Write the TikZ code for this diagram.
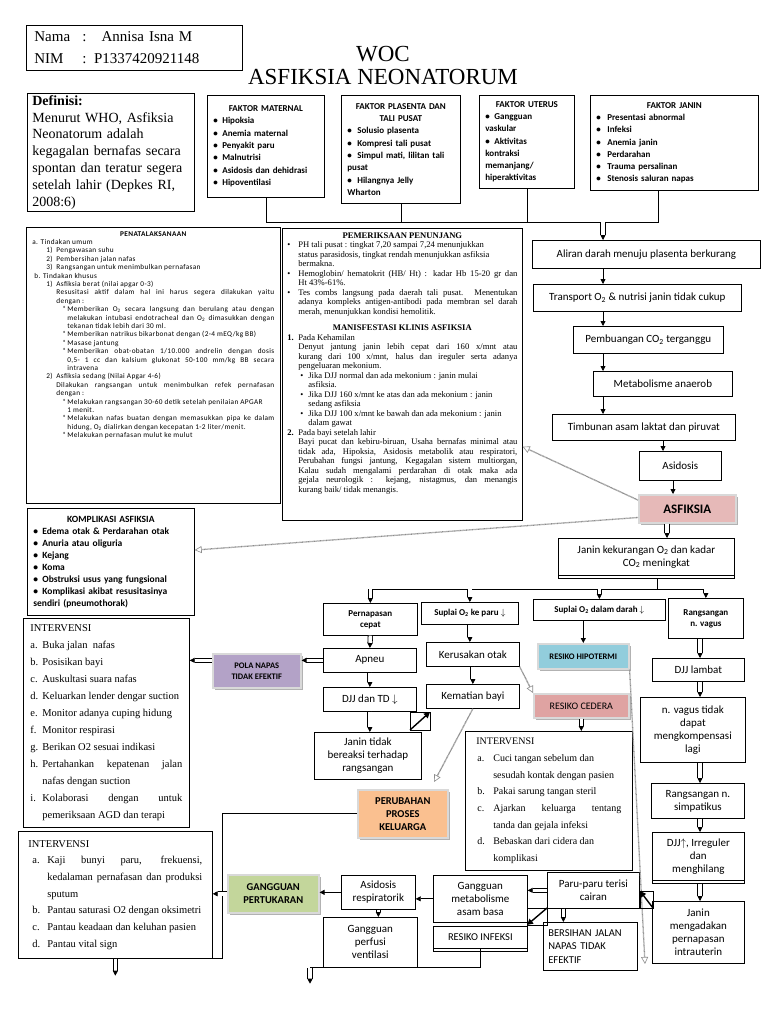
\documentclass[tikz,border=0pt]{standalone}
\usepackage{fontspec}
\setmainfont{Liberation Serif}
\newfontfamily\calib{Carlito}
\newfontfamily\calibsp{Carlito}[LetterSpace=5]
\usetikzlibrary{arrows.meta,shadows,positioning}

\definecolor{pinkA}{HTML}{E6B9B8}
\definecolor{lilac}{HTML}{B3A2C7}
\definecolor{skyA}{HTML}{92CDDC}
\definecolor{roseA}{HTML}{DFA3A2}
\definecolor{peach}{HTML}{FAC090}
\definecolor{sage}{HTML}{C3D69B}

\newcommand\fsz[2]{\fontsize{#1}{#2}\selectfont}
\newcommand\itm[3]{\par\hangindent=#1\hangafter=0\noindent\llap{\makebox[#2][l]{#3}}}

\tikzset{
  bx/.style={draw, line width=0.7pt, anchor=north west, align=center, inner sep=2pt, font=\calib\fsz{11}{13}},
  fak/.style={bx, align=left, inner xsep=6pt, font=\calib\bfseries\fsz{9}{12.3}},
  tag/.style={bx, draw=black!15, line width=1.6pt, drop shadow={shadow xshift=2pt, shadow yshift=-2pt, fill=black!30, opacity=1}},
  twin/.style={fill=white, copy shadow={shadow xshift=0pt, shadow yshift=-3pt}},
  arr/.style={line width=0.8pt, -{Triangle[length=5pt,width=5pt]}},
  dbl/.style={double, double distance=3.6pt, line width=0.8pt, -{Triangle[length=5pt,width=5pt]}},
  gry/.style={draw=black!45, line width=1.3pt, dash pattern=on 0.7pt off 0.5pt,
    -{Triangle[open, length=7pt, width=7pt, line width=0.6pt, fill=white]}},
  diag/.style={draw=black, line width=1.4pt, -{Triangle[length=6pt,width=6pt]}},
}

\begin{document}
\begin{tikzpicture}[x=1pt, y=-1pt]
\useasboundingbox (0,0) rectangle (768,1024);
\fill[white] (0,0) rectangle (768,1024);

% kepala
\node[bx, font=\fsz{15}{22}, align=left, text width=200pt, inner xsep=8pt, minimum height=45pt] (nama) at (26,25)
  {\makebox[48pt][l]{Nama}:\ \ \ Annisa Isna M\\\makebox[48pt][l]{NIM}: P1337420921148};
\node[font=\fsz{23}{23}, align=center] (judul) at (383,66) {WOC\\ASFIKSIA NEONATORUM};

\node[bx, font=\fsz{14}{16.8}, align=left, text width=157pt, inner xsep=5pt, minimum height=117pt] (def) at (27,93)
  {\textbf{Definisi:}\\Menurut WHO, Asfiksia\\Neonatorum adalah\\kegagalan bernafas secara\\spontan dan teratur segera\\setelah lahir (Depkes RI,\\2008:6)};

% faktor
\node[fak, text width=105pt, minimum height=102pt] (maternal) at (207,95)
  {{\centering FAKTOR MATERNAL\par}
   \itm{9pt}{9pt}{\textbullet}Hipoksia
   \itm{9pt}{9pt}{\textbullet}Anemia maternal
   \itm{9pt}{9pt}{\textbullet}Penyakit paru
   \itm{9pt}{9pt}{\textbullet}Malnutrisi
   \itm{9pt}{9pt}{\textbullet}Asidosis dan dehidrasi
   \itm{9pt}{9pt}{\textbullet}Hipoventilasi\par};
\node[fak, text width=107pt, minimum height=108pt] (plasenta) at (341,95)
  {{\centering FAKTOR PLASENTA DAN\\TALI PUSAT\par}
   \itm{10pt}{10pt}{\textbullet}Solusio plasenta
   \itm{10pt}{10pt}{\textbullet}Kompresi tali pusat
   \itm{10pt}{10pt}{\textbullet}Simpul mati, lilitan tali\\pusat
   \itm{10pt}{10pt}{\textbullet}Hilangnya Jelly\\Wharton\par};
\node[fak, text width=83pt, minimum height=93pt] (uterus) at (479,95)
  {{\centering FAKTOR UTERUS\par}
   \itm{9pt}{9pt}{\textbullet}Gangguan\\vaskular
   \itm{9pt}{9pt}{\textbullet}Aktivitas\\kontraksi\\memanjang/\\hiperaktivitas\par};
\node[fak, text width=156pt, minimum height=95pt] (janin) at (590,95)
  {{\centering FAKTOR JANIN\par}
   \itm{11pt}{11pt}{\textbullet}Presentasi abnormal
   \itm{11pt}{11pt}{\textbullet}Infeksi
   \itm{11pt}{11pt}{\textbullet}Anemia janin
   \itm{11pt}{11pt}{\textbullet}Perdarahan
   \itm{11pt}{11pt}{\textbullet}Trauma persalinan
   \itm{11pt}{11pt}{\textbullet}Stenosis saluran napas\par};

% penatalaksanaan & pemeriksaan
\node[bx, inner xsep=6pt, inner ysep=4pt] (tata) at (26,227)
  {\parbox[t][268pt][t]{242pt}{\calibsp\fsz{7.3}{8.4}\baselineskip=8.4pt
   {\centering\bfseries PENATALAKSANAAN\par}
   \itm{0pt}{0pt}{}a. Tindakan umum
   \itm{24pt}{10pt}{1)}Pengawasan suhu
   \itm{24pt}{10pt}{2)}Pembersihan jalan nafas
   \itm{24pt}{10pt}{3)}Rangsangan untuk menimbulkan pernafasan
   \itm{2pt}{0pt}{}b. Tindakan khusus
   \itm{24pt}{10pt}{1)}Asfiksia berat (nilai apgar 0-3)
   \itm{24pt}{0pt}{}Resusitasi aktif dalam hal ini harus segera dilakukan yaitu\linebreak dengan :
   \itm{35pt}{5pt}{*}Memberikan O\textsubscript{2} secara langsung dan berulang atau dengan\linebreak melakukan intubasi endotracheal dan O\textsubscript{2} dimasukkan dengan\linebreak tekanan tidak lebih dari 30 ml.
   \itm{35pt}{5pt}{*}Memberikan natrikus bikarbonat dengan (2-4 mEQ/kg BB)
   \itm{35pt}{5pt}{*}Masase jantung
   \itm{35pt}{5pt}{*}Memberikan obat-obatan 1/10.000 andrelin dengan dosis\linebreak 0,5- 1 cc dan kalsium glukonat 50-100 mm/kg BB secara\linebreak intravena
   \itm{24pt}{10pt}{2)}Asfiksia sedang (Nilai Apgar 4-6)
   \itm{24pt}{0pt}{}Dilakukan rangsangan untuk menimbulkan refek pernafasan\linebreak dengan :
   \itm{35pt}{5pt}{*}Melakukan rangsangan 30-60 detik setelah penilaian APGAR\\1 menit.
   \itm{35pt}{5pt}{*}Melakukan nafas buatan dengan memasukkan pipa ke dalam\linebreak hidung, O\textsubscript{2} dialirkan dengan kecepatan 1-2 liter/menit.
   \itm{35pt}{5pt}{*}Melakukan pernafasan mulut ke mulut\par}};
\node[bx, inner xsep=5pt, inner ysep=4pt] (periksa) at (282,228)
  {\parbox[t][284pt][t]{230pt}{\rmfamily\fsz{8.6}{9.5}
   {\centering\bfseries PEMERIKSAAN PENUNJANG\par}
   \itm{11pt}{11pt}{\textbullet}PH tali pusat : tingkat 7,20 sampai 7,24 menunjukkan\\status parasidosis, tingkat rendah menunjukkan asfiksia\\bermakna.
   \itm{11pt}{11pt}{\textbullet}Hemoglobin/ hematokrit (HB/ Ht) : kadar Hb 15-20 gr dan\linebreak Ht 43\%-61\%.
   \itm{11pt}{11pt}{\textbullet}Tes combs langsung pada daerah tali pusat. Menentukan\linebreak adanya kompleks antigen-antibodi pada membran sel darah\linebreak merah, menunjukkan kondisi hemolitik.
   \par\vspace{7pt}
   {\centering\bfseries MANISFESTASI KLINIS ASFIKSIA\par}
   \itm{11pt}{11pt}{\textbf{1.}}Pada Kehamilan
   \itm{11pt}{0pt}{}Denyut jantung janin lebih cepat dari 160 x/mnt atau\linebreak kurang dari 100 x/mnt, halus dan ireguler serta adanya\linebreak pengeluaran mekonium.
   \itm{21pt}{8pt}{\textbullet}Jika DJJ normal dan ada mekonium : janin mulai\\asfiksia.
   \itm{21pt}{8pt}{\textbullet}Jika DJJ 160 x/mnt ke atas dan ada mekonium : janin\\sedang asfiksia
   \itm{21pt}{8pt}{\textbullet}Jika DJJ 100 x/mnt ke bawah dan ada mekonium : janin\\dalam gawat
   \itm{11pt}{11pt}{\textbf{2.}}Pada bayi setelah lahir
   \itm{11pt}{0pt}{}Bayi pucat dan kebiru-biruan, Usaha bernafas minimal atau\linebreak tidak ada, Hipoksia, Asidosis metabolik atau respiratori,\linebreak Perubahan fungsi jantung, Kegagalan sistem multiorgan,\linebreak Kalau sudah mengalami perdarahan di otak maka ada\linebreak gejala neurologik : kejang, nistagmus, dan menangis\linebreak kurang baik/ tidak menangis.\par}};

% jalur kanan
\node[bx, minimum width=228pt, minimum height=28pt] (aliran) at (532,240) {Aliran darah menuju plasenta berkurang};
\node[bx, minimum width=208pt, minimum height=27pt] (transport) at (533,284) {Transport O\textsubscript{2} \& nutrisi janin tidak cukup};
\node[bx, minimum width=150pt, minimum height=27pt] (buang) at (573,326) {Pembuangan CO\textsubscript{2} terganggu};
\node[bx, minimum width=139pt, minimum height=25pt] (anaerob) at (593,371) {Metabolisme anaerob};
\node[bx, minimum width=183pt, minimum height=26pt] (laktat) at (552,414) {Timbunan asam laktat dan piruvat};
\node[bx, minimum width=82pt, minimum height=29pt] (asidosis) at (639,451) {Asidosis};
\node[tag, fill=pinkA, font=\calib\bfseries\fsz{13}{15}, minimum width=97pt, minimum height=28pt] (asfiksia) at (638,494) {ASFIKSIA};

\node[bx, font=\calib\bfseries\fsz{9.5}{12}, align=left, text width=155pt, inner xsep=6pt, minimum height=107pt] (kompl) at (27,508)
  {{\centering KOMPLIKASI ASFIKSIA\par}
   \itm{9pt}{9pt}{\textbullet}Edema otak \& Perdarahan otak
   \itm{9pt}{9pt}{\textbullet}Anuria atau oliguria
   \itm{9pt}{9pt}{\textbullet}Kejang
   \itm{9pt}{9pt}{\textbullet}Koma
   \itm{9pt}{9pt}{\textbullet}Obstruksi usus yang fungsional
   \itm{9pt}{9pt}{\textbullet}Komplikasi akibat resusitasinya\\sendiri (pneumothorak)\par};

\node[bx, twin, minimum width=176pt, minimum height=37pt] (kurang) at (558,538)
  {Janin kekurangan O\textsubscript{2} dan kadar\\\hspace*{20pt}CO\textsubscript{2} meningkat};

% cabang
\node[bx, font=\calib\bfseries\fsz{9}{11}, minimum width=94pt, minimum height=32pt] (napas) at (323,603) {Pernapasan\\cepat};
\node[bx, font=\calib\bfseries\fsz{9}{11}, minimum width=97pt, minimum height=22pt] (suparu) at (421,602) {Suplai O\textsubscript{2} ke paru $\downarrow$};
\node[bx, font=\calib\bfseries\fsz{9}{11}, minimum width=132pt, minimum height=21pt] (supdarah) at (533,599) {Suplai O\textsubscript{2} dalam darah $\downarrow$};
\node[bx, font=\calib\bfseries\fsz{9}{11}, minimum width=75pt, minimum height=40pt] (vagus) at (668,598) {Rangsangan\\n. vagus};

\node[bx, minimum width=93pt, minimum height=24pt] (apneu) at (323,648) {Apneu};
\node[bx, minimum width=93pt, minimum height=24pt] (otak) at (426,642) {Kerusakan otak};
\node[bx, minimum width=93pt, minimum height=24pt] (djjtd) at (323,687) {DJJ dan TD $\downarrow$};
\node[bx, minimum width=93pt, minimum height=24pt] (mati) at (426,684) {Kematian bayi};
\node[bx, minimum width=107pt, minimum height=47pt] (bereaksi) at (314,732) {Janin tidak\\bereaksi terhadap\\rangsangan};

\node[tag, fill=lilac, font=\calib\bfseries\fsz{8.5}{11}, minimum width=88pt, minimum height=34pt] (pola) at (212,653) {POLA NAPAS\\TIDAK EFEKTIF};
\node[tag, fill=skyA, font=\calib\bfseries\fsz{8.5}{10}, minimum width=91pt, minimum height=25pt] (hipo) at (537,643) {RESIKO HIPOTERMI};
\node[tag, fill=roseA, font=\calib\fsz{10}{12}, minimum width=95pt, minimum height=24pt] (cedera) at (533,693) {RESIKO CEDERA};
\node[tag, fill=peach, font=\calib\bfseries\fsz{10.5}{13}, minimum width=90pt, minimum height=48pt] (ubah) at (357,789) {PERUBAHAN\\PROSES\\KELUARGA};

\node[bx, font=\fsz{10.5}{17}, align=justify, text width=152pt, inner xsep=7pt, minimum height=209pt] (iv1) at (23,618)
  {INTERVENSI
   \itm{12pt}{12pt}{a.}Buka jalan\ \ nafas
   \itm{12pt}{12pt}{b.}Posisikan bayi
   \itm{12pt}{12pt}{c.}Auskultasi suara nafas
   \itm{12pt}{12pt}{d.}Keluarkan lender dengar suction
   \itm{12pt}{12pt}{e.}Monitor adanya cuping hidung
   \itm{12pt}{12pt}{f.}Monitor respirasi
   \itm{12pt}{12pt}{g.}Berikan O2 sesuai indikasi
   \itm{12pt}{12pt}{h.}Pertahankan kepatenan jalan\linebreak nafas dengan suction
   \itm{12pt}{12pt}{i.}Kolaborasi dengan untuk\linebreak \mbox{pemeriksaan AGD dan terapi}\par};
\node[bx, font=\fsz{10}{16.7}, align=justify, text width=145pt, inner xsep=11pt, minimum height=139pt] (iv2) at (465,731)
  {INTERVENSI
   \itm{17pt}{16pt}{a.}Cuci tangan sebelum dan\\sesudah kontak dengan pasien
   \itm{17pt}{16pt}{b.}Pakai sarung tangan steril
   \itm{17pt}{16pt}{c.}Ajarkan keluarga tentang\linebreak tanda dan gejala infeksi
   \itm{17pt}{16pt}{d.}Bebaskan dari cidera dan\\komplikasi\par};
\node[bx, font=\fsz{10.5}{16.7}, align=justify, text width=174pt, inner xsep=10pt, minimum height=127pt] (iv3) at (18,831)
  {INTERVENSI
   \itm{19pt}{15pt}{a.}Kaji bunyi paru, frekuensi,\linebreak kedalaman pernafasan dan produksi\linebreak sputum
   \itm{19pt}{15pt}{b.}Pantau saturasi O2 dengan oksimetri
   \itm{19pt}{15pt}{c.}Pantau keadaan dan keluhan pasien
   \itm{19pt}{15pt}{d.}Pantau vital sign\par};

% bawah
\node[tag, fill=sage, font=\calib\bfseries\fsz{10.5}{13}, minimum width=91pt, minimum height=38pt] (tukar) at (227,874) {GANGGUAN\\PERTUKARAN};
\node[bx, minimum width=74pt, minimum height=34pt] (asresp) at (341,875) {Asidosis\\respiratorik};
\node[bx, minimum width=94pt, minimum height=50pt] (perfusi) at (323,917) {Gangguan\\perfusi\\ventilasi};
\node[bx, minimum width=94pt, minimum height=47pt] (metab) at (433,875) {Gangguan\\metabolisme\\asam basa};
\node[bx, minimum width=92pt, minimum height=36pt] (cairan) at (547,872) {Paru-paru terisi\\cairan};
\node[bx, twin, font=\calib\fsz{10.5}{12}, minimum width=94pt, minimum height=22pt] (infeksi) at (433,926) {RESIKO INFEKSI};
\node[bx, align=left, font=\calib\fsz{10.5}{13.5}, text width=84pt, inner xsep=5pt, minimum height=48pt] (bersih) at (543,922) {BERSIHAN JALAN\\NAPAS TIDAK\\EFEKTIF};

% kolom kanan
\node[bx, minimum width=92pt, minimum height=23pt] (lambat) at (652,658) {DJJ lambat};
\node[bx, minimum width=105pt, minimum height=65pt] (kompens) at (640,697) {n. vagus tidak\\dapat\\mengkompensasi\\lagi};
\node[bx, minimum width=93pt, minimum height=35pt] (simpat) at (651,783) {Rangsangan n.\\simpatikus};
\node[bx, twin, minimum width=92pt, minimum height=48pt] (irreg) at (652,832) {DJJ$\uparrow$, Irreguler\\dan\\menghilang};
\node[bx, minimum width=92pt, minimum height=62pt] (intra) at (652,901) {Janin\\mengadakan\\pernapasan\\intrauterin};

% garis
\coordinate (fj) at (658,222);
\coordinate (k1) at (603,222);
\coordinate (k2) at (663,0);
\coordinate (k3) at (673,0);
\coordinate (k4) at (667,0);
\coordinate (k5) at (657,589);
\coordinate (k6) at (700,0);
\coordinate (bar) at (0,589);
\coordinate (sd) at (222,0);
\coordinate (hipoend) at (645,964);
\coordinate (dg1a) at (410,730);
\coordinate (dg1b) at (430,712);
\coordinate (dg2a) at (547,908);
\coordinate (dg2b) at (527,925);
\coordinate (dg3a) at (653,908);
\coordinate (dg3b) at (640,891);

\draw[line width=0.7pt] (maternal.south) |- (fj) -- (fj |- janin.south);
\draw[line width=0.7pt] (plasenta.south) -- (plasenta.south |- fj);
\draw[line width=0.7pt] (uterus.south) -- (uterus.south |- fj);
\draw[dbl] (k1) -- (k1 |- aliran.north);

\draw[arr] (aliran.south -| k1) -- (transport.north -| k1);
\draw[arr] (transport.south -| k1) -- (buang.north -| k1);
\draw[arr] (buang.south -| k1) -- (anaerob.north -| k1);
\draw[arr] (anaerob.south -| k1) -- (laktat.north -| k1);
\draw[arr] (laktat.south -| k2) -- (asidosis.north -| k2);
\draw[arr] (asidosis.south -| k3) -- (asfiksia.north -| k3);

\draw[gry] (asfiksia.170) -- (periksa.-31);
\draw[gry] (asfiksia.190) -- (kompl.8.5);

\draw[dbl] (asfiksia.south -| k4) -- (kurang.north -| k4);
\draw[line width=0.7pt] ([yshift=-3pt]kurang.south -| k5) -- (k5);
\draw[line width=0.7pt] (napas.north |- bar) -- (vagus.north |- bar);
\draw[dbl] (napas.north |- bar) -- (napas.north);
\draw[dbl] (suparu.north |- bar) -- (suparu.north);
\draw[dbl] (supdarah.north |- bar) -- (supdarah.north);
\draw[dbl] (vagus.north |- bar) -- (vagus.north);

\draw[dbl] (napas.south) -- (apneu.north);
\draw[dbl] (apneu.south) -- (djjtd.north);
\draw[dbl] (djjtd.south) -- (djjtd.south |- bereaksi.north);
\draw[dbl] (suparu.south) -- (suparu.south |- otak.north);
\draw[dbl] (otak.south) -- (mati.north);

\draw[dbl] (apneu.west) -- (apneu.west -| pola.east);
\draw[dbl] (apneu.west -| pola.west) -- (apneu.west -| iv1.east);
\draw[arr] (hipo.north |- supdarah.south) -- (hipo.north);
\draw[gry] (otak.south east) -- (cedera.north west);
\draw[dbl] (cedera.south) -- (cedera.south |- iv2.north);
\draw[gry, shorten >=8pt] (mati.south) -- (ubah.42);
\draw[line width=0.7pt] (ubah.west) -| (sd |- iv3.south) -- (iv3.south east);
\draw[gry] (hipo.south east) -- (hipoend);

\draw[dbl] (iv3.south) -- ++(0,17);
\draw[dbl] (tukar.west) -- (tukar.west -| iv3.east);
\draw[arr] (asresp.west) -- (asresp.west -| tukar.east);
\draw[dbl] (asresp.south) -- (asresp.south |- perfusi.north);
\draw[line width=0.7pt] (perfusi.south west) -- ++(-13,0) coordinate (pv);
\draw[dbl] (pv) -- ++(0,16);
\draw[arr] (metab.west) -- (metab.west -| asresp.east);
\draw[dbl] (cairan.west) -- (cairan.west -| metab.east);
\draw[line width=0.7pt] (infeksi.south) |- (perfusi.south east);
\draw[dbl] ([xshift=-30pt]cairan.south) -- ([xshift=-30pt]cairan.south |- bersih.north);

\draw[dbl] (vagus.south -| k6) -- (lambat.north -| k6);
\draw[dbl] (lambat.south -| k6) -- (kompens.north -| k6);
\draw[dbl] (kompens.south -| k6) -- (simpat.north -| k6);
\draw[dbl] (simpat.south -| k6) -- (irreg.north -| k6);
\draw[dbl] ([yshift=-3pt]irreg.south -| k6) -- (intra.north -| k6);

% kotak panah kecil
\draw[line width=0.9pt] (dg1a) rectangle (dg1b);
\draw[diag] (dg1a) -- (dg1b);
\draw[line width=0.9pt] (dg2a) rectangle (dg2b);
\draw[diag] (dg2a) -- (dg2b);
\draw[line width=0.9pt] (dg3a) rectangle (dg3b);
\draw[diag] (dg3a) -- (dg3b);
\end{tikzpicture}
\end{document}
